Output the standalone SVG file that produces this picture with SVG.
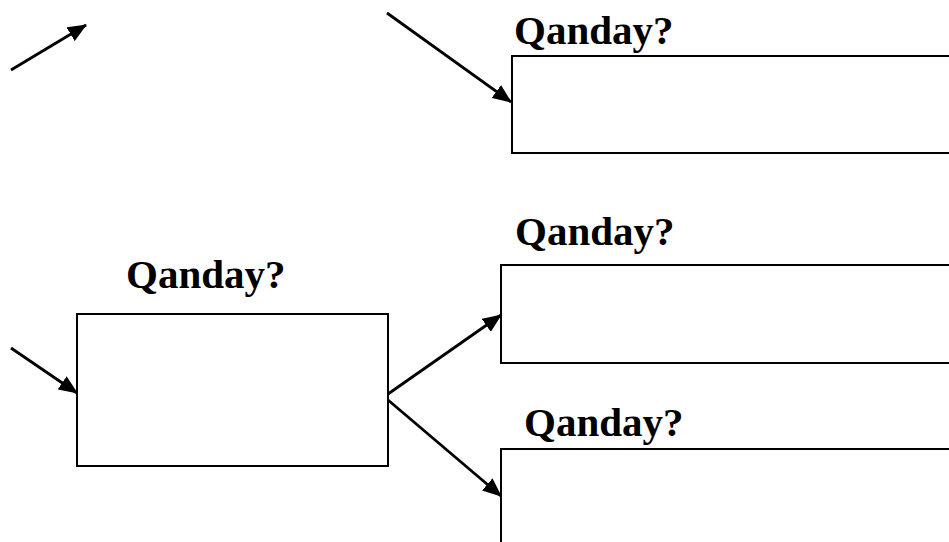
<svg xmlns="http://www.w3.org/2000/svg" width="949" height="542" viewBox="0 0 949 542">
<style>
.box{fill:#fff;stroke:#000;stroke-width:2}
.lbl{font-family:"Liberation Serif","Times New Roman",serif;font-weight:bold;font-size:41px;fill:#000}
.con{stroke:#000;stroke-width:2.8;fill:none;marker-end:url(#ah)}
</style>
<defs>
<marker id="ah" markerUnits="userSpaceOnUse" markerWidth="19" markerHeight="16" refX="18" refY="8" orient="auto">
<path d="M0,0 L19,8 L0,16 Z" fill="#000"/>
</marker>
</defs>
<rect width="949" height="542" fill="#fff"/>
<g id="node-top">
<rect class="box" x="512" y="56" width="450" height="97"/>
<text class="lbl" x="514" y="44">Qanday?</text>
</g>
<g id="node-mid">
<rect class="box" x="501" y="265" width="460" height="98"/>
<text class="lbl" x="515" y="245">Qanday?</text>
</g>
<g id="node-left">
<rect class="box" x="77" y="314" width="311" height="152"/>
<text class="lbl" x="126" y="288">Qanday?</text>
</g>
<g id="node-bottom">
<rect class="box" x="501" y="449" width="460" height="110"/>
<text class="lbl" x="524" y="436">Qanday?</text>
</g>
<g id="connectors">
<line class="con" x1="11" y1="70" x2="86" y2="25"/>
<line class="con" x1="387" y1="13" x2="511" y2="102"/>
<line class="con" x1="11" y1="348" x2="77" y2="393"/>
<line class="con" x1="388" y1="394" x2="501" y2="315"/>
<line class="con" x1="388" y1="400" x2="501" y2="496"/>
</g>
</svg>
